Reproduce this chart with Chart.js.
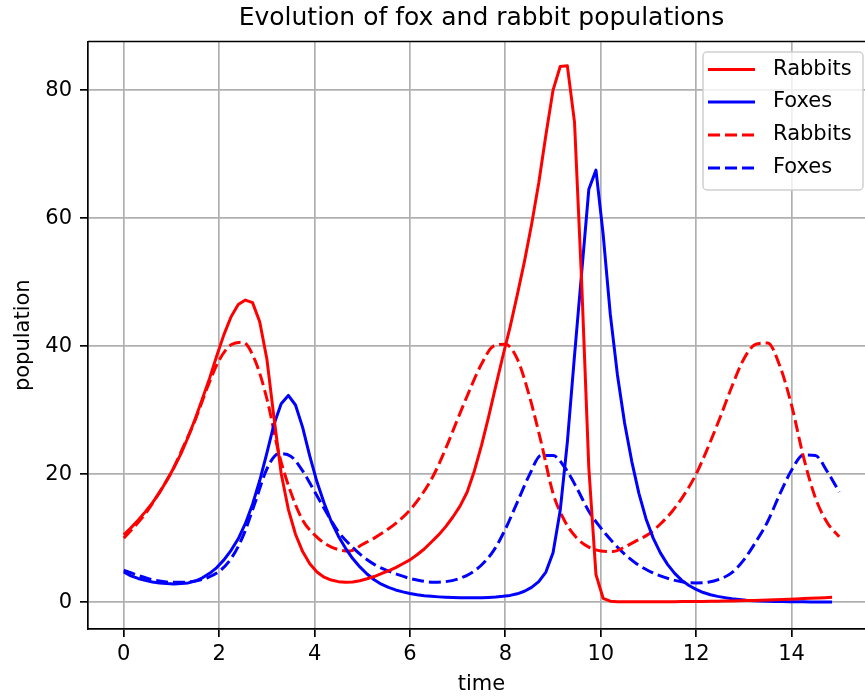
<!DOCTYPE html>
<html>
<head>
<meta charset="utf-8">
<title>Evolution of fox and rabbit populations</title>
<script src="https://cdn.jsdelivr.net/npm/chart.js@4.4.1/dist/chart.umd.min.js"></script>
<style>
  html, body { margin: 0; padding: 0; overflow: hidden; background: #fff; }
</style>
</head>
<body>
<canvas id="myChart" width="875" height="697"></canvas>
<script>
// euler solution, sampled every 0.15
const tSolid = [
  0, 0.15, 0.3, 0.45, 0.6, 0.75, 0.9, 1.05, 1.2, 1.35,
  1.5, 1.65, 1.8, 1.95, 2.1, 2.25, 2.4, 2.55, 2.7, 2.85,
  3, 3.15, 3.3, 3.45, 3.6, 3.75, 3.9, 4.05, 4.2, 4.35,
  4.5, 4.65, 4.8, 4.95, 5.1, 5.25, 5.4, 5.55, 5.7, 5.85,
  6, 6.15, 6.3, 6.45, 6.6, 6.75, 6.9, 7.05, 7.2, 7.35,
  7.5, 7.65, 7.8, 7.95, 8.1, 8.25, 8.4, 8.55, 8.7, 8.85,
  9, 9.15, 9.3, 9.45, 9.6, 9.75, 9.9, 10.05, 10.2, 10.35,
  10.5, 10.65, 10.8, 10.95, 11.1, 11.25, 11.4, 11.55, 11.7, 11.85,
  12, 12.15, 12.3, 12.45, 12.6, 12.75, 12.9, 13.05, 13.2, 13.35,
  13.5, 13.65, 13.8, 13.95, 14.1, 14.25, 14.4, 14.55, 14.7, 14.85
];
const rabbitsEuler = [
  10.5, 11.6, 12.8, 14.1, 15.5, 17.1, 19.0, 21.0, 23.2, 25.8,
  28.7, 31.8, 35.0, 38.5, 41.8, 44.6, 46.5, 47.2, 46.8, 43.8,
  38.0, 28.8, 20.1, 14.5, 10.6, 7.9, 6.0, 4.7, 3.9, 3.45,
  3.2, 3.1, 3.15, 3.35, 3.65, 4.0, 4.45, 4.9, 5.4, 6.0,
  6.6, 7.4, 8.3, 9.4, 10.5, 11.8, 13.3, 15.0, 17.2, 20.5,
  24.5, 29.0, 33.8, 38.5, 43.0, 48.0, 53.2, 59.0, 65.5, 73.0,
  80.0, 83.7, 83.8, 75.0, 50.0, 21.0, 4.3, 0.6, 0.15, 0.07,
  0.05, 0.05, 0.05, 0.05, 0.05, 0.06, 0.06, 0.07, 0.08, 0.09,
  0.1, 0.11, 0.13, 0.15, 0.17, 0.19, 0.21, 0.24, 0.27, 0.3,
  0.33, 0.37, 0.41, 0.45, 0.5, 0.55, 0.6, 0.65, 0.7, 0.75
];
const foxesEuler = [
  4.7, 4.1, 3.7, 3.4, 3.15, 3.0, 2.9, 2.85, 2.9, 3.0,
  3.3, 3.8, 4.5, 5.4, 6.6, 8.1, 9.9, 12.3, 15.3, 19.0,
  23.3, 27.8, 31.0, 32.3, 30.8, 27.3, 22.8, 18.8, 15.5, 12.6,
  10.3, 8.4, 6.8, 5.5, 4.4, 3.5, 2.8, 2.3, 1.9, 1.6,
  1.35, 1.15, 1.0, 0.9, 0.82, 0.76, 0.72, 0.7, 0.68, 0.68,
  0.7, 0.74, 0.8, 0.9, 1.05, 1.3, 1.7, 2.3, 3.2, 4.7,
  7.7, 14.3, 25.0, 38.5, 51.5, 64.5, 67.5, 57.5, 45.0, 35.5,
  28.0, 22.0, 17.0, 13.0, 10.0, 7.7, 5.9, 4.5, 3.4, 2.6,
  2.0, 1.5, 1.15, 0.9, 0.7, 0.52, 0.4, 0.3, 0.23, 0.18,
  0.14, 0.11, 0.08, 0.06, 0.05, 0.04, 0.03, 0.02, 0.02, 0.01
];

// exact (odeint) solution, sampled every 0.25
const tExact = [
  0, 0.25, 0.5, 0.75, 1, 1.25, 1.5, 1.75, 2, 2.25,
  2.5, 2.75, 3, 3.25, 3.5, 3.75, 4, 4.25, 4.5, 4.75,
  5, 5.25, 5.5, 5.75, 6, 6.25, 6.5, 6.75, 7, 7.25,
  7.5, 7.75, 8, 8.25, 8.5, 8.75, 9, 9.25, 9.5, 9.75,
  10, 10.25, 10.5, 10.75, 11, 11.25, 11.5, 11.75, 12, 12.25,
  12.5, 12.75, 13, 13.25, 13.5, 13.75, 14, 14.25, 14.5, 14.75,
  15
];
const rabbitsExact = [
  10.0, 12.0, 14.3, 17.2, 20.3, 24.3, 28.5, 33.5, 37.8, 40.2,
  40.6, 37.8, 31.8, 23.3, 17.2, 12.8, 10.5, 9.0, 8.2, 8.0,
  9.0, 10.0, 11.2, 12.6, 14.4, 16.8, 19.9, 24.0, 28.6, 33.1,
  37.2, 40.0, 40.3, 38.0, 32.3, 25.0, 17.0, 12.6, 10.0, 8.6,
  8.0, 7.9, 8.6, 9.6, 10.6, 12.2, 14.2, 16.8, 20.0, 24.2,
  28.8, 33.7, 38.0, 40.3, 40.5, 37.0, 30.8, 22.7, 16.3, 12.4,
  10.2
];
const foxesExact = [
  5.0, 4.3, 3.7, 3.3, 3.1, 3.1, 3.3, 3.8, 4.8, 6.8,
  10.3, 15.5, 20.8, 23.2, 22.8, 20.5, 17.3, 14.0, 11.0, 8.9,
  7.2, 5.9, 5.0, 4.3, 3.7, 3.3, 3.1, 3.2, 3.6, 4.4,
  5.8, 8.0, 11.4, 15.6, 19.8, 22.9, 22.9, 21.0, 17.8, 14.2,
  11.6, 9.4, 7.5, 6.0, 4.9, 4.1, 3.5, 3.1, 3.0, 3.1,
  3.6, 4.6, 6.6, 9.4, 12.6, 16.8, 20.6, 23.0, 22.9, 20.4,
  17.2
];

const xTicks = [0, 2, 4, 6, 8, 10, 12, 14];
const yTicks = [0, 20, 40, 60, 80];

const fontFamily = "'DejaVu Sans', sans-serif";
Chart.defaults.font.family = fontFamily;
Chart.defaults.color = '#000';

function pairs(xs, ys) {
  return xs.map((x, i) => ({ x: x, y: ys[i] }));
}

// top spine (matplotlib draws a full box round the axes)
const frame = {
  id: 'frame',
  afterDatasetsDraw(chart) {
    const a = chart.chartArea;
    const c = chart.ctx;
    c.save();
    c.strokeStyle = '#000';
    c.lineWidth = 1.7;
    c.beginPath();
    c.moveTo(a.left, a.top);
    c.lineTo(a.right, a.top);
    c.lineTo(a.right, a.bottom);
    c.stroke();
    c.restore();
  }
};

// matplotlib style legend box, upper right
const legendBox = {
  id: 'legendBox',
  afterDraw(chart) {
    const c = chart.ctx;
    const box = { x: 703, y: 52, w: 160, h: 138 };
    const rows = [69.5, 102, 135, 168];
    c.save();
    c.beginPath();
    c.roundRect(box.x, box.y, box.w, box.h, 4);
    c.fillStyle = 'rgba(255,255,255,0.8)';
    c.fill();
    c.strokeStyle = '#d0d0d0';
    c.lineWidth = 1.5;
    c.stroke();
    chart.data.datasets.forEach((ds, i) => {
      c.beginPath();
      c.strokeStyle = ds.borderColor;
      c.lineWidth = ds.borderWidth;
      c.setLineDash(ds.borderDash || []);
      c.moveTo(708, rows[i]);
      c.lineTo(755, rows[i]);
      c.stroke();
      c.setLineDash([]);
      c.fillStyle = '#000';
      c.font = '21px ' + fontFamily;
      c.textBaseline = 'middle';
      c.textAlign = 'left';
      c.fillText(ds.label, 773, rows[i]);
    });
    c.restore();
  }
};

const lineStyle = { showLine: true, pointRadius: 0, borderWidth: 3, borderJoinStyle: 'round', fill: false };

const ctx = document.getElementById('myChart');
const popChart = new Chart(ctx, {
  type: 'scatter',
  data: {
    datasets: [
      Object.assign({ label: 'Rabbits', data: pairs(tSolid, rabbitsEuler), borderColor: '#ff0000', tension: 0 }, lineStyle),
      Object.assign({ label: 'Foxes', data: pairs(tSolid, foxesEuler), borderColor: '#0000ff', tension: 0 }, lineStyle),
      Object.assign({ label: 'Rabbits', data: pairs(tExact, rabbitsExact), borderColor: '#ff0000', borderDash: [12, 5], cubicInterpolationMode: 'monotone' }, lineStyle),
      Object.assign({ label: 'Foxes', data: pairs(tExact, foxesExact), borderColor: '#0000ff', borderDash: [12, 5], cubicInterpolationMode: 'monotone' }, lineStyle)
    ]
  },
  options: {
    responsive: false,
    animation: false,
    layout: { padding: 0 },
    plugins: {
      legend: { display: false },
      tooltip: { enabled: false },
      title: {
        display: true,
        text: 'Evolution of fox and rabbit populations',
        fullSize: false,
        color: '#000',
        font: { size: 25, weight: 'normal' },
        padding: { top: 3, bottom: 8.5 }
      }
    },
    scales: {
      x: {
        type: 'linear',
        min: -0.75,
        max: 15.75,
        afterBuildTicks: (s) => { s.ticks = xTicks.map(v => ({ value: v })); },
        afterFit: (s) => { s.height = 68; },
        grid: { color: '#b0b0b0', lineWidth: 1.7, tickColor: '#000', tickLength: 8, tickWidth: 1.7 },
        border: { color: '#000', width: 1.7 },
        ticks: { font: { size: 21 }, padding: 5, color: '#000', maxRotation: 0 },
        title: { display: true, text: 'time', font: { size: 21 }, color: '#000', padding: { top: 0, bottom: 0 } }
      },
      y: {
        type: 'linear',
        min: -4.2,
        max: 87.6,
        afterBuildTicks: (s) => { s.ticks = yTicks.map(v => ({ value: v })); },
        afterFit: (s) => { s.width = 88; },
        grid: { color: '#b0b0b0', lineWidth: 1.7, tickColor: '#000', tickLength: 8, tickWidth: 1.7 },
        border: { color: '#000', width: 1.7 },
        ticks: { font: { size: 21 }, padding: 8, color: '#000' },
        title: { display: true, text: 'population', font: { size: 21 }, color: '#000', padding: { top: 11, bottom: 0 } }
      }
    }
  },
  plugins: [frame, legendBox]
});
</script>
</body>
</html>
